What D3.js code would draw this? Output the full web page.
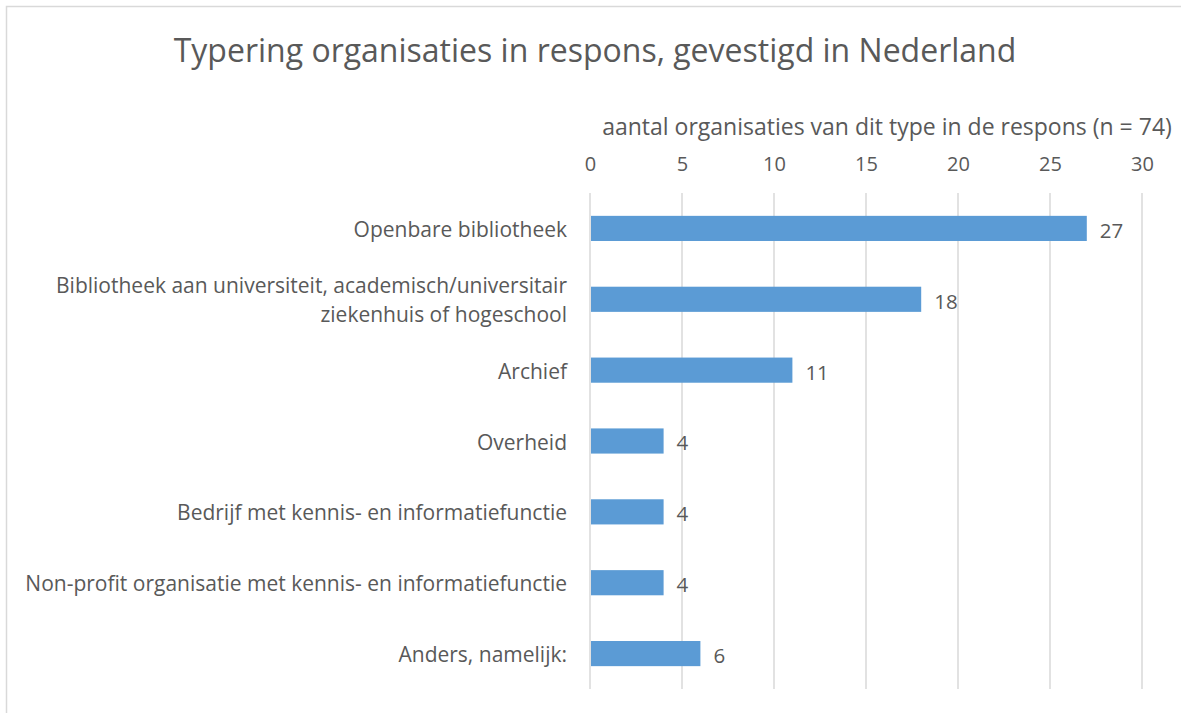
<!DOCTYPE html>
<html>
<head>
<meta charset="utf-8">
<script src="https://cdn.jsdelivr.net/npm/d3@7"></script>
<style>
  body { margin: 0; background: #fff; }
  text { font-family: "Open Sans", "Liberation Sans", sans-serif; fill: #595959; }
</style>
</head>
<body>
<div id="chart"></div>
<script>
// data
var categories = [
    'Openbare bibliotheek',
    'Bibliotheek aan universiteit, academisch/universitair|ziekenhuis of hogeschool',
    'Archief',
    'Overheid',
    'Bedrijf met kennis- en informatiefunctie',
    'Non-profit organisatie met kennis- en informatiefunctie',
    'Anders, namelijk:'
];
var counts = [27, 18, 11, 4, 4, 4, 6];
var xTicks = [0, 5, 10, 15, 20, 25, 30];

var chartTitle = 'Typering organisaties in respons, gevestigd in Nederland';
var axisTitle = 'aantal organisaties van dit type in de respons (n = 74)';

var W = 1181, H = 713;
var margin = {top: 193, right: 39, bottom: 24, left: 590};

var svg = d3.select('#chart').append('svg')
    .attr('width', W)
    .attr('height', H);

// chart border (cut off at right and bottom like the picture)
svg.append('rect')
    .attr('x', 6.5).attr('y', 6.5)
    .attr('width', W + 10).attr('height', H + 10)
    .attr('fill', 'none')
    .attr('stroke', '#d9d9d9')
    .attr('stroke-width', 1.5);

var xScale = d3.scaleLinear()
    .domain([0, 30])
    .range([margin.left, W - margin.right]);

var yScale = d3.scaleBand()
    .domain(categories)
    .range([margin.top, H - margin.bottom])
    .paddingInner(0.645)
    .paddingOuter(0.3225);

// title
svg.append('text')
    .attr('x', 595).attr('y', 62)
    .attr('text-anchor', 'middle')
    .style('font-size', '32px')
    .text(chartTitle);

// axis title
svg.append('text')
    .attr('x', 887).attr('y', 135)
    .attr('text-anchor', 'middle')
    .style('font-size', '23px')
    .text(axisTitle);

// gridlines
svg.append('g')
    .selectAll('line')
    .data(xTicks)
    .enter()
    .append('line')
        .attr('x1', function(d){ return xScale(d); })
        .attr('x2', function(d){ return xScale(d); })
        .attr('y1', margin.top)
        .attr('y2', H - margin.bottom)
        .attr('stroke', '#d9d9d9')
        .attr('stroke-width', 1.5);

// top axis, labels only
var xAxis = d3.axisTop(xScale)
    .tickValues(xTicks)
    .tickSize(0)
    .tickPadding(0);

var axisG = svg.append('g')
    .attr('transform', 'translate(0,' + 171 + ')')
    .call(xAxis);
axisG.select('.domain').remove();
axisG.selectAll('text')
    .style('font-size', '20px')
    .attr('fill', '#595959')
    .style('font-family', '"Open Sans", sans-serif');

// bars
svg.append('g')
    .selectAll('rect')
    .data(counts)
    .enter()
    .append('rect')
        .attr('x', xScale(0) + 1)
        .attr('y', function(d, i){ return yScale(categories[i]); })
        .attr('width', function(d){ return xScale(d) - xScale(0) - 1; })
        .attr('height', yScale.bandwidth())
        .attr('fill', '#5b9bd5');

// value labels
svg.append('g')
    .selectAll('text')
    .data(counts)
    .enter()
    .append('text')
        .attr('x', function(d){ return xScale(d) + 13; })
        .attr('y', function(d, i){ return yScale(categories[i]) + yScale.bandwidth() / 2 + 2; })
        .attr('dy', '0.36em')
        .style('font-size', '20.5px')
        .text(function(d){ return d; });

// category labels (| splits lines)
var catG = svg.append('g');
categories.forEach(function(c){
    var lines = c.split('|');
    var cy = yScale(c) + yScale.bandwidth() / 2 + 1;
    var lh = 29;
    lines.forEach(function(ln, j){
        catG.append('text')
            .attr('x', 567)
            .attr('y', cy + (j - (lines.length - 1) / 2) * lh)
            .attr('dy', '0.36em')
            .attr('text-anchor', 'end')
            .style('font-size', '21px')
            .text(ln);
    });
});
</script>
</body>
</html>
